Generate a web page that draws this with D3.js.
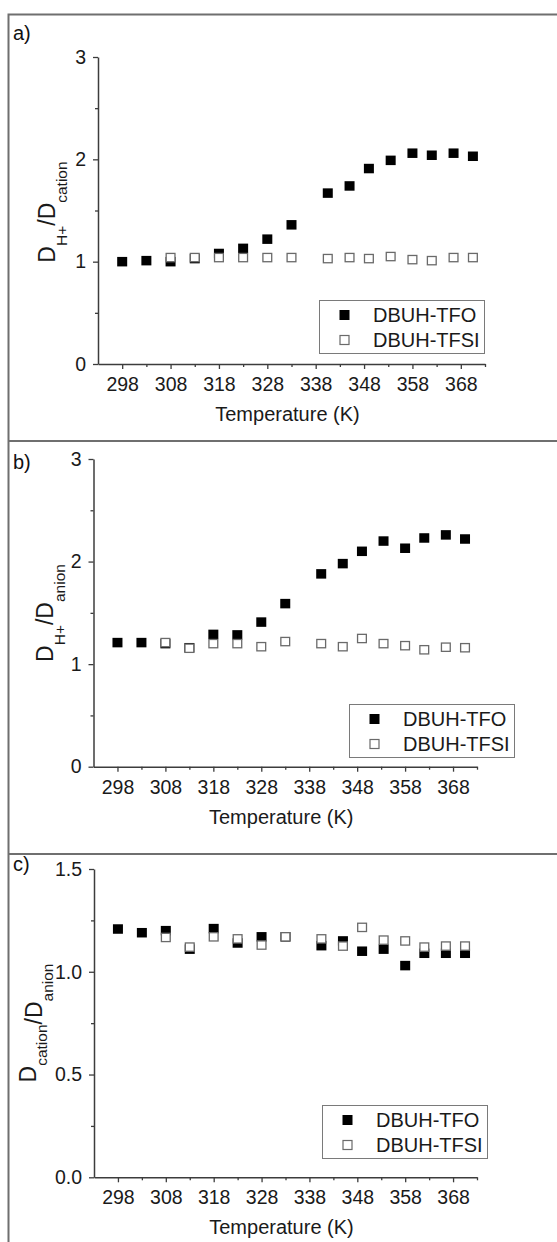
<!DOCTYPE html>
<html>
<head>
<meta charset="utf-8">
<script src="https://cdn.jsdelivr.net/npm/d3@7"></script>
<style>
  body { margin: 0; background: #fff; }
  text { font-family: "Liberation Sans", Arial, sans-serif; }
</style>
</head>
<body>
<svg id="fig"></svg>
<script>
// temperatures (K) of the measurements
const tempTFO  = [298, 303, 308, 313, 318, 323, 328, 333, 340.5, 345, 349, 353.5, 358, 362, 366.5, 370.5];
const tempTFSI = [308, 313, 318, 323, 328, 333, 340.5, 345, 349, 353.5, 358, 362, 366.5, 370.5];

// a) D_H+/D_cation
const hcTFO  = [1.00, 1.01, 1.00, 1.03, 1.08, 1.13, 1.22, 1.36, 1.67, 1.74, 1.91, 1.99, 2.06, 2.04, 2.06, 2.03];
const hcTFSI = [1.04, 1.04, 1.04, 1.04, 1.04, 1.04, 1.03, 1.04, 1.03, 1.05, 1.02, 1.01, 1.04, 1.04];
// b) D_H+/D_anion
const haTFO  = [1.21, 1.21, 1.20, 1.16, 1.29, 1.285, 1.41, 1.59, 1.88, 1.98, 2.10, 2.20, 2.13, 2.23, 2.26, 2.22];
const haTFSI = [1.21, 1.155, 1.20, 1.20, 1.17, 1.22, 1.20, 1.17, 1.25, 1.20, 1.18, 1.14, 1.165, 1.16];
// c) D_cation/D_anion
const caTFO  = [1.208, 1.19, 1.20, 1.11, 1.21, 1.14, 1.17, 1.17, 1.127, 1.15, 1.10, 1.11, 1.03, 1.09, 1.09, 1.09];
const caTFSI = [1.167, 1.12, 1.17, 1.16, 1.13, 1.17, 1.16, 1.125, 1.216, 1.154, 1.15, 1.12, 1.125, 1.125];

const xTicks = [298, 308, 318, 328, 338, 348, 358, 368];
const xMinor = [303, 313, 323, 333, 343, 353, 363, 373];
const seriesNames = ["DBUH-TFO", "DBUH-TFSI"];

const width = 557, height = 1242;
const svg = d3.select("#fig").attr("width", width).attr("height", height);

// outer frame and panel separators
svg.append("path").attr("d", "M8.5,1242V14.5H557")
    .attr("fill", "none").attr("stroke", "#6f6f6f").attr("stroke-width", 2);
[441, 854].forEach(yy => {
    svg.append("line").attr("x1", 8).attr("x2", width).attr("y1", yy).attr("y2", yy)
        .attr("stroke", "#6f6f6f").attr("stroke-width", 2);
});

const panels = [
    {tag: "a)", tagY: 40, x: [98, 485], y: [364, 57], yMax: 3, yTicks: [0, 1, 2, 3], yMinor: [0.5, 1.5, 2.5],
     fmt: d3.format("d"), tfo: hcTFO, tfsi: hcTFSI, labX: 55, labY: 212,
     label: [["D", 0, 0], ["H+", 12, 1], ["/D", -12, 0], ["cation", 12, 1]], leg: [319, 300]},
    {tag: "b)", tagY: 469, x: [93.5, 477], y: [766.7, 459], yMax: 3, yTicks: [0, 1, 2, 3], yMinor: [0.5, 1.5, 2.5],
     fmt: d3.format("d"), tfo: haTFO, tfsi: haTFSI, labX: 53, labY: 613,
     label: [["D", 0, 0], ["H+", 12, 1], ["/D", -12, 0], ["anion", 12, 1]], leg: [349, 704]},
    {tag: "c)", tagY: 871, x: [94, 477], y: [1177.3, 869], yMax: 1.5, yTicks: [0, 0.5, 1, 1.5], yMinor: [0.25, 0.75, 1.25],
     fmt: d3.format(".1f"), tfo: caTFO, tfsi: caTFSI, labX: 36, labY: 1023,
     label: [["D", 0, 0], ["cation", 11, 1], ["/D", -5, 0], ["anion", 11, 1]], leg: [322, 1105]}
];

const ink = "#3c3c3c";

panels.forEach(p => {
    const xs = d3.scaleLinear().domain([293, 373]).range(p.x);
    const ys = d3.scaleLinear().domain([0, p.yMax]).range(p.y);
    const g = svg.append("g");

    g.append("text").attr("x", 13).attr("y", p.tagY)
        .attr("font-size", 20).attr("fill", "#111").text(p.tag);

    // x axis
    g.append("g").attr("transform", `translate(0,${p.y[0]})`)
        .call(d3.axisBottom(xs).tickValues(xTicks).tickSize(5).tickPadding(8).tickSizeOuter(0));
    g.append("g").attr("transform", `translate(0,${p.y[0]})`)
        .call(d3.axisBottom(xs).tickValues(xMinor).tickSize(3).tickFormat(""))
        .call(a => a.select(".domain").remove());

    // y axis
    g.append("g").attr("transform", `translate(${p.x[0]},0)`)
        .call(d3.axisLeft(ys).tickValues(p.yTicks).tickFormat(p.fmt).tickSize(5).tickPadding(7).tickSizeOuter(0));
    g.append("g").attr("transform", `translate(${p.x[0]},0)`)
        .call(d3.axisLeft(ys).tickValues(p.yMinor).tickSize(3).tickFormat(""))
        .call(a => a.select(".domain").remove());

    g.selectAll(".domain").attr("stroke", ink).attr("stroke-width", 1.5);
    g.selectAll(".tick line").attr("stroke", ink).attr("stroke-width", 1.3);
    g.selectAll(".tick text").attr("font-size", 19.5).attr("fill", "#1a1a1a")
        .attr("font-family", "Liberation Sans, Arial, sans-serif");

    // axis titles
    g.append("text").attr("x", (p.x[0] + p.x[1]) / 2 - 4).attr("y", p.y[0] + 57)
        .attr("text-anchor", "middle").attr("font-size", 20).attr("fill", "#1a1a1a")
        .text("Temperature (K)");

    const yl = g.append("text").attr("transform", `translate(${p.labX},${p.labY}) rotate(-90)`)
        .attr("text-anchor", "middle").attr("fill", "#1a1a1a");
    p.label.forEach(([s, dy, sub]) => {
        yl.append("tspan").attr("dy", dy).attr("font-size", sub ? 15.5 : 23).text(s);
    });

    // markers: filled first, open on top
    const mw = 10, mh = 9.5;
    g.selectAll(".tfo").data(tempTFO.map((t, i) => [t, p.tfo[i]])).enter()
        .append("rect")
        .attr("x", d => xs(d[0]) - mw / 2).attr("y", d => ys(d[1]) - mh / 2)
        .attr("width", mw).attr("height", mh).attr("fill", "#000");
    g.selectAll(".tfsi").data(tempTFSI.map((t, i) => [t, p.tfsi[i]])).enter()
        .append("rect")
        .attr("x", d => xs(d[0]) - mw / 2 + 0.6).attr("y", d => ys(d[1]) - mh / 2 + 0.6)
        .attr("width", mw - 1.2).attr("height", mh - 1.2)
        .attr("fill", "#fff").attr("stroke", "#6a6a6a").attr("stroke-width", 1.3);

    // legend
    const lg = g.append("g").attr("transform", `translate(${p.leg[0]},${p.leg[1]})`);
    lg.append("rect").attr("x", 0.5).attr("y", 0.5).attr("width", 165).attr("height", 53)
        .attr("fill", "#fff").attr("stroke", "#7a7a7a").attr("stroke-width", 1);
    seriesNames.forEach((name, i) => {
        const cy = 15 + i * 25;
        if (i === 0) {
            lg.append("rect").attr("x", 20.5).attr("y", cy - 5).attr("width", 10).attr("height", 10).attr("fill", "#000");
        } else {
            lg.append("rect").attr("x", 21).attr("y", cy - 4.5).attr("width", 9).attr("height", 9)
                .attr("fill", "#fff").attr("stroke", "#6a6a6a").attr("stroke-width", 1.2);
        }
        lg.append("text").attr("x", 54).attr("y", cy + 7)
            .attr("font-size", 20).attr("fill", "#1a1a1a").text(name);
    });
});
</script>
</body>
</html>
